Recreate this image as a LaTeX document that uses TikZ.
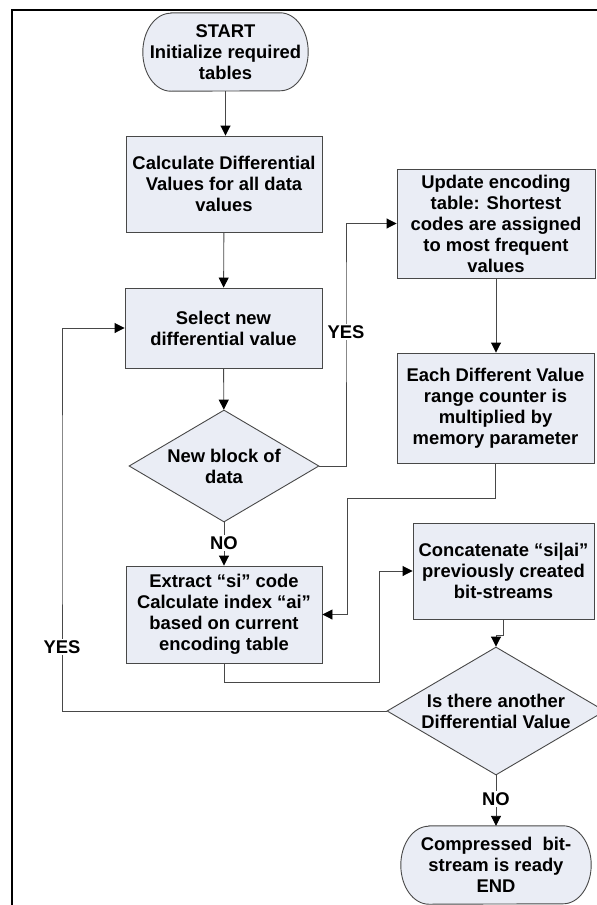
\documentclass[tikz,border=0pt]{standalone}
\usepackage{fontspec}
\setmainfont{Liberation Sans}
\usetikzlibrary{arrows.meta,shapes.geometric,backgrounds}
\definecolor{boxfill}{RGB}{234,237,245}
\definecolor{edgegray}{RGB}{72,72,72}
\begin{document}
\begin{tikzpicture}[x=1pt,y=-1pt,
  every node/.style={font=\fontsize{18.4}{21}\selectfont\bfseries, align=center},
  procbox/.style={rectangle, draw=edgegray, fill=boxfill, line width=0.9pt, inner sep=0pt},
  decision/.style={diamond, aspect=1.7, draw=edgegray, fill=boxfill, line width=0.9pt, inner sep=0pt},
  termnode/.style={rectangle, inner sep=0pt},
  termline/.style={draw=edgegray, fill=boxfill, line width=0.9pt},
  flow/.style={draw=edgegray, line width=0.9pt, -{Triangle[length=10pt,width=10pt,color=black]}},
  tag/.style={fill=white, inner sep=1pt}]
\useasboundingbox (0,0) rectangle (597,905);
\clip (0,0) rectangle (597,905);

% outer frame
\draw[line width=2.5pt, line join=miter] (12,920) -- (12,10) -- (610,10);

% terminals
\node[termnode, minimum width=165pt, minimum height=78pt] (start) at (225.5,52)
  {START\\Initialize required\\tables};
\node[termnode, minimum width=190pt, minimum height=78pt] (finish) at (496,865)
  {Compressed\ \ bit-\\stream is ready\\END};
\begin{scope}[on background layer]
  \foreach \t in {start,finish}{
    \draw[termline] ([xshift=28pt]\t.north west) -- ([xshift=-28pt]\t.north east)
      arc[start angle=90, end angle=-90, x radius=28pt, y radius=39pt]
      -- ([xshift=28pt]\t.south west)
      arc[start angle=270, end angle=90, x radius=28pt, y radius=39pt] -- cycle;
  }
\end{scope}

% process boxes
\node[procbox, minimum width=196pt, minimum height=96pt] (calc) at (224,184)
  {Calculate Differential\\Values for all data\\values};
\node[procbox, minimum width=197pt, minimum height=80pt] (select) at (223.5,328)
  {Select new\\differential value};
\node[procbox, minimum width=198pt, minimum height=109pt] (update) at (496,223.5)
  {Update encoding\\table: Shortest\\codes are assigned\\to most frequent\\values};
\node[procbox, minimum width=197pt, minimum height=110pt] (scale) at (495.5,408)
  {Each Different Value\\range counter is\\multiplied by\\memory parameter};
\node[procbox, minimum width=196pt, minimum height=97pt] (extract) at (224,614.5)
  {Extract “si” code\\Calculate index “ai”\\based on current\\encoding table};
\node[procbox, minimum width=181pt, minimum height=96pt] (concat) at (503.5,571)
  {Concatenate “si|ai”\\previously created\\bit-streams};

% decisions
\node[decision, minimum width=190pt, minimum height=112pt] (newblock) at (224,466)
  {New block of\\data};
\node[decision, minimum width=218pt, minimum height=128pt] (another) at (496,711)
  {Is there another\\Differential Value};

% bend points
\coordinate (j1) at (346,300);
\coordinate (j2) at (347,498);
\coordinate (j3) at (379,682);
\coordinate (j4) at (503.5,635);
\coordinate (j5) at (62,500);

% connectors
\draw[flow] (start.south) -- (start.south |- calc.north);
\draw[flow] (calc) -- (select);
\draw[flow] (select) -- (newblock);
\draw[flow] (newblock.east) -| (j1) |- (update.west);
\draw[flow] (update.south) -- (update.south |- scale.north);
\draw[flow] (scale.south) |- (j2) |- (extract.east);
\draw[flow] (newblock.south) -- (extract.north);
\draw[flow] (extract.south) |- (j3) |- (concat.west);
\draw[flow] (concat.south) |- (j4) -| (another.north);
\draw[flow] (another.west) -| (j5) |- (select.west);
\draw[flow] (another.south) -- (finish.north);

% branch labels
\node[tag] (yes1) at (346,332) {YES};
\node[tag] (no1) at (224,543) {NO};
\node[tag] (yes2) at (62,647) {YES};
\node[tag] (no2) at (496,799) {NO};
\end{tikzpicture}
\end{document}
